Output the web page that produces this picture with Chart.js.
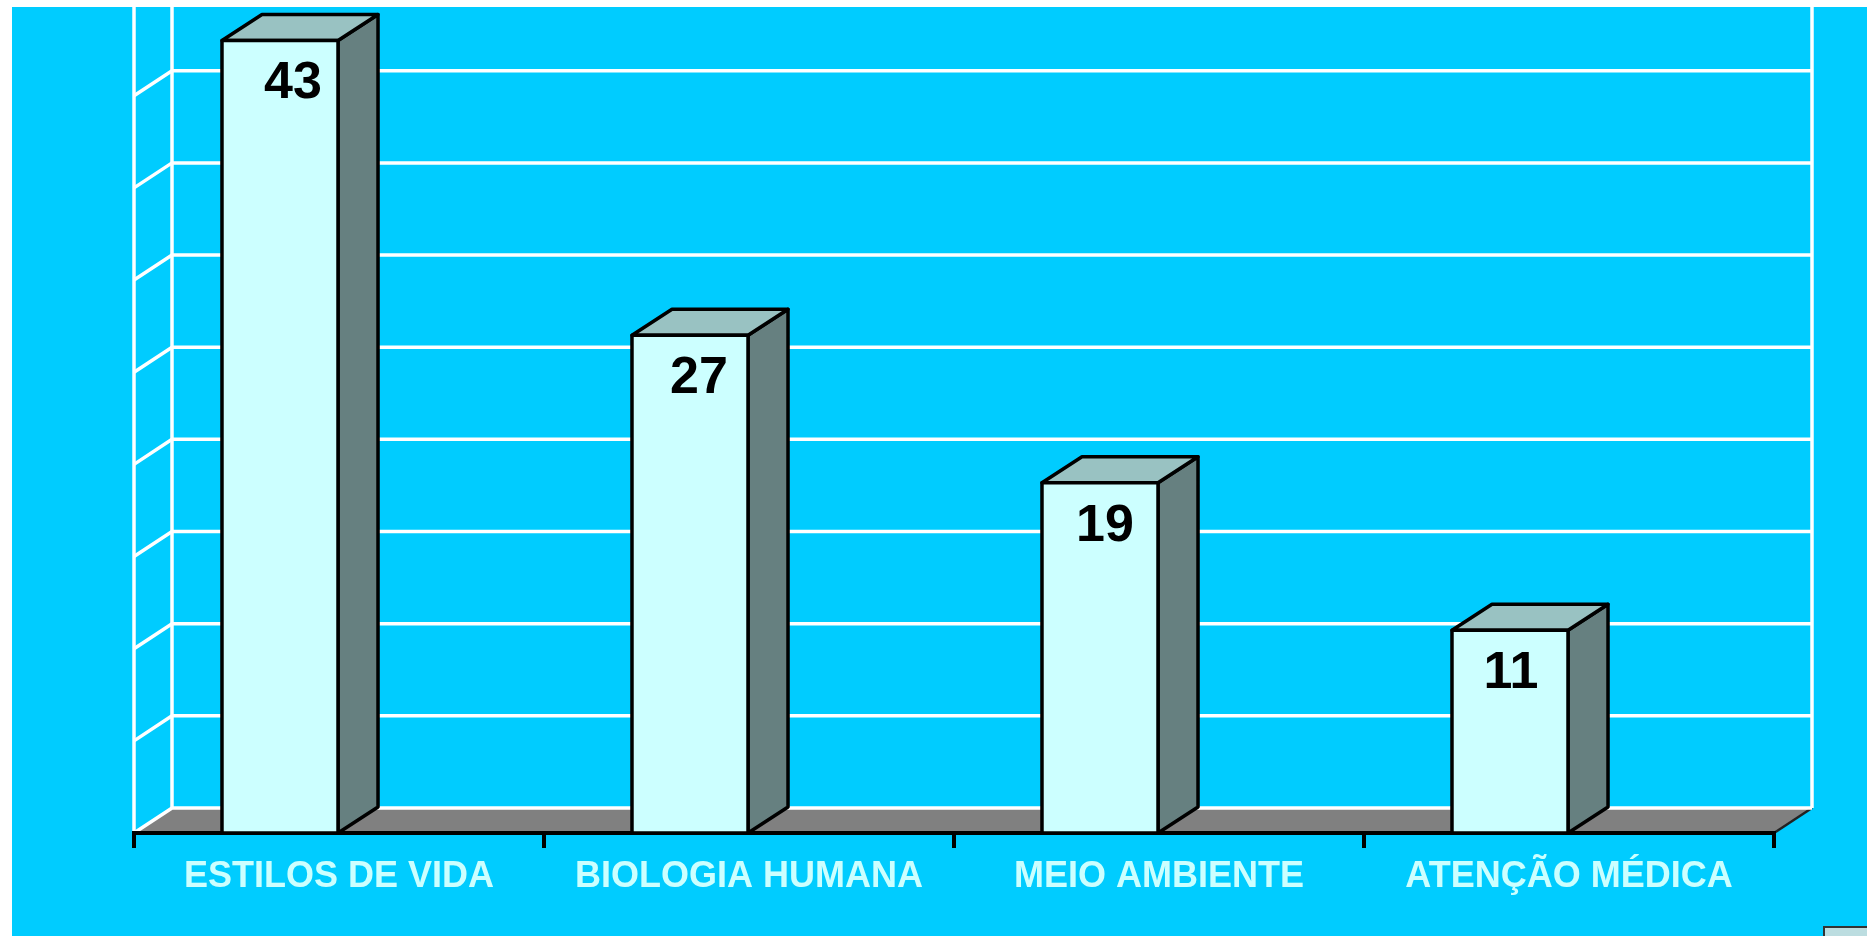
<!DOCTYPE html>
<html>
<head>
<meta charset="utf-8">
<script src="https://cdn.jsdelivr.net/npm/chart.js@4.4.1/dist/chart.umd.min.js"></script>
<style>
  html, body { margin: 0; padding: 0; background: #ffffff; overflow: hidden; }
  canvas { display: block; }
</style>
</head>
<body>
<canvas id="grafico-fatores" width="1867" height="936"></canvas>
<script>
const categorias = ['ESTILOS DE VIDA', 'BIOLOGIA HUMANA', 'MEIO AMBIENTE', 'ATENÇÃO MÉDICA'];
const valores = [43, 27, 19, 11];
const marcasGrade = [0, 5, 10, 15, 20, 25, 30, 35, 40];

// profundidade do "3D" (parede e colunas)
const PAREDE_DX = 38, PAREDE_DY = -25;
const COLUNA_DX = 40, COLUNA_DY = -26;
const DESLOCAMENTO = -59; // face frontal fica à esquerda do centro da categoria

const cenario3d = {
    id: 'cenario3d',
    beforeDraw(chart) {
        const { ctx, chartArea: a, scales: { y } } = chart;
        ctx.save();
        ctx.fillStyle = '#ffffff';
        ctx.fillRect(0, 0, chart.width, chart.height);
        ctx.fillStyle = '#00CCFF';
        ctx.fillRect(12, 7, chart.width - 12, chart.height - 7);

        const base = y.getPixelForValue(0);
        // piso cinza
        ctx.beginPath();
        ctx.moveTo(a.left, base);
        ctx.lineTo(a.right, base);
        ctx.lineTo(a.right + PAREDE_DX, base + PAREDE_DY);
        ctx.lineTo(a.left + PAREDE_DX, base + PAREDE_DY);
        ctx.closePath();
        ctx.fillStyle = '#808080';
        ctx.fill();
        ctx.strokeStyle = '#222';
        ctx.lineWidth = 2.5;
        ctx.beginPath();
        ctx.moveTo(a.right, base);
        ctx.lineTo(a.right + PAREDE_DX, base + PAREDE_DY);
        ctx.stroke();

        // linhas da grade: parede lateral + parede do fundo
        ctx.strokeStyle = '#ffffff';
        ctx.lineWidth = 3.5;
        marcasGrade.forEach(v => {
            const yf = y.getPixelForValue(v);
            ctx.beginPath();
            ctx.moveTo(a.left, yf);
            ctx.lineTo(a.left + PAREDE_DX, yf + PAREDE_DY);
            ctx.lineTo(a.right + PAREDE_DX, yf + PAREDE_DY);
            ctx.stroke();
        });
        const topo = 7;
        [[a.left, base], [a.left + PAREDE_DX, base + PAREDE_DY], [a.right + PAREDE_DX, base + PAREDE_DY]].forEach(([x, y0]) => {
            ctx.beginPath();
            ctx.moveTo(x, y0);
            ctx.lineTo(x, topo);
            ctx.stroke();
        });
        ctx.restore();
    },
    afterDatasetsDraw(chart) {
        const ctx = chart.ctx;
        const meta = chart.getDatasetMeta(0);
        ctx.save();
        ctx.lineWidth = 3.5;
        ctx.lineJoin = 'round';
        ctx.strokeStyle = '#000000';
        meta.data.forEach((barra, i) => {
            const { x, y, base, width } = barra.getProps(['x', 'y', 'base', 'width'], true);
            const x0 = x + DESLOCAMENTO - width / 2, x1 = x0 + width;
            // lateral
            ctx.beginPath();
            ctx.moveTo(x1, base);
            ctx.lineTo(x1 + COLUNA_DX, base + COLUNA_DY);
            ctx.lineTo(x1 + COLUNA_DX, y + COLUNA_DY);
            ctx.lineTo(x1, y);
            ctx.closePath();
            ctx.fillStyle = '#668080';
            ctx.fill(); ctx.stroke();
            // topo
            ctx.beginPath();
            ctx.moveTo(x0, y);
            ctx.lineTo(x0 + COLUNA_DX, y + COLUNA_DY);
            ctx.lineTo(x1 + COLUNA_DX, y + COLUNA_DY);
            ctx.lineTo(x1, y);
            ctx.closePath();
            ctx.fillStyle = '#99C2C2';
            ctx.fill(); ctx.stroke();
            // frente
            ctx.beginPath();
            ctx.rect(x0, y, width, base - y);
            ctx.fillStyle = '#CCFFFF';
            ctx.fill(); ctx.stroke();
            // rótulo (leve perspectiva: desloca menos à direita nas últimas colunas)
            ctx.fillStyle = '#000000';
            ctx.font = 'bold 52px "Liberation Sans", Arial, sans-serif';
            ctx.textAlign = 'center';
            ctx.textBaseline = 'alphabetic';
            ctx.fillText(String(valores[i]), x0 + width / 2 + 13 - 4 * i, y + 58);
        });
        ctx.restore();
    },
    afterDraw(chart) {
        // pedaço da legenda cortada no canto
        const ctx = chart.ctx;
        ctx.save();
        ctx.fillStyle = '#BCDDE0';
        ctx.strokeStyle = '#333';
        ctx.lineWidth = 2;
        ctx.fillRect(1824, 927, 50, 20);
        ctx.strokeRect(1824, 927, 50, 20);
        ctx.restore();
    }
};

function desenharGrafico() {
    const ctx = document.getElementById('grafico-fatores').getContext('2d');
    new Chart(ctx, {
        type: 'bar',
        data: {
            labels: categorias,
            datasets: [{
                data: valores,
                backgroundColor: 'rgba(0,0,0,0)',
                borderWidth: 0,
                barPercentage: 0.283,
                categoryPercentage: 1
            }]
        },
        options: {
            responsive: false,
            animation: false,
            devicePixelRatio: 1,
            layout: { padding: { left: 134, right: 93, top: 22, bottom: 0 } },
            plugins: { legend: { display: false }, tooltip: { enabled: false } },
            scales: {
                x: {
                    afterFit: s => { s.height = 103; },
                    grid: { offset: true, drawOnChartArea: false, color: '#000000', lineWidth: 4, tickLength: 15 },
                    border: { color: '#000000', width: 4 },
                    ticks: {
                        color: '#CCFFFF',
                        font: { family: '"Liberation Sans", Arial, sans-serif', weight: 'bold', size: 36 },
                        padding: 7,
                        maxRotation: 0,
                        autoSkip: false
                    }
                },
                y: { display: false, min: 0, max: 44 }
            }
        },
        plugins: [cenario3d]
    });
}

window.onload = desenharGrafico;
</script>
</body>
</html>
